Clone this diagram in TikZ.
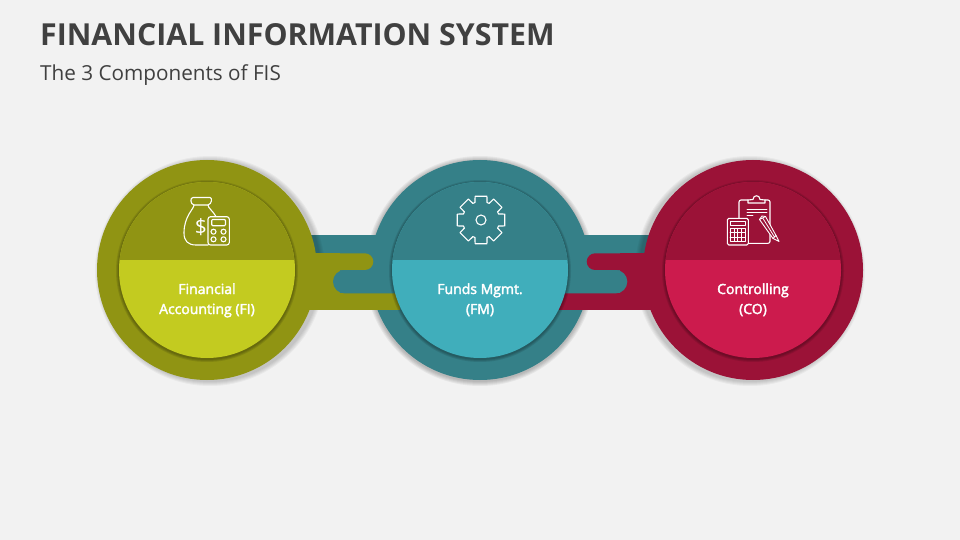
\documentclass[tikz,border=0pt]{standalone}
\usepackage{fontspec}
\setmainfont{Open Sans}
\newfontfamily\labelfont[BoldFont={Open Sans},BoldFeatures={RawFeature={embolden=2.5}},RawFeature={embolden=2.5}]{Open Sans}
\usepackage{tikz}
\definecolor{pageBg}{HTML}{F2F2F2}
\definecolor{titleInk}{HTML}{404040}
\definecolor{fiDark}{HTML}{909413}
\definecolor{fiLight}{HTML}{C3CB20}
\definecolor{fmDark}{HTML}{358088}
\definecolor{fmLight}{HTML}{40AEBB}
\definecolor{coDark}{HTML}{9B1237}
\definecolor{coLight}{HTML}{CC1B4D}

\newcommand{\softshadow}[4]{%
  \foreach \r in {1,...,#3} \fill[black,fill opacity=#4] #1 circle[radius=#2+\r];
}

\tikzset{
  outerdisc/.style={circle,minimum size=220pt,inner sep=0pt,fill=#1},
  innerdisc/.style n args={2}{circle,minimum size=176pt,inner sep=0pt,fill=#2,
    path picture={\fill[#1] (path picture bounding box.north west) rectangle ([yshift=10pt]path picture bounding box.east);}},
  maintitle/.style={anchor=base west,inner sep=0pt,text=titleInk},
  labeltext/.style={anchor=base,inner sep=0pt,text=white,font=\labelfont\fontsize{14}{14}\selectfont},
  iconline/.style={draw=white,line width=1.1pt,line join=round,line cap=round}
}

\begin{document}
\begin{tikzpicture}[x=1pt,y=-1pt]
  \fill[pageBg] (0,0) rectangle (960,540);
  \useasboundingbox (0,0) rectangle (960,540);

  \node[maintitle,font=\fontsize{30.3}{30.3}\selectfont\bfseries] (title) at (40,46) {FINANCIAL INFORMATION SYSTEM};
  \node[maintitle,font=\fontsize{20.7}{20.7}\selectfont] (subtitle) at (40,81) {The 3 Components of FIS};

  % middle disc and its band go first
  \softshadow{(480,271)}{110}{5}{0.05}
  \node[outerdisc=fmDark] (fmOuter) at (480,270) {};
  \fill[fmDark] (290,235) rectangle (670,293);

  % side discs
  \softshadow{(210,271)}{110}{5}{0.04}
  \softshadow{(750,271)}{110}{5}{0.04}
  \node[outerdisc=fiDark] (fiOuter) at (207,270) {};
  \node[outerdisc=coDark] (coOuter) at (753,270) {};

  % bands with the round ends
  \fill[fiDark] (290,253) rectangle (340,310);
  \fill[fiDark,rounded corners=8.4pt] (290,253.3) rectangle (373.3,270);
  \fill[fiDark] (290,293) rectangle (400,310);
  \fill[fmDark,rounded corners=11.7pt] (333,270) rectangle (420,293.4);
  \fill[coDark] (620,253) rectangle (670,310);
  \fill[coDark,rounded corners=8.4pt] (586.7,253.3) rectangle (670,270);
  \fill[coDark] (550,293) rectangle (670,310);
  \fill[fmDark,rounded corners=11.7pt] (540,270) rectangle (627.3,293.4);

  % inner discs
  \softshadow{(207,271)}{88}{3}{0.1}
  \softshadow{(480,271)}{88}{3}{0.1}
  \softshadow{(753,271)}{88}{3}{0.1}
  \node[innerdisc={fiDark}{fiLight}] (fiInner) at (207,270) {};
  \node[innerdisc={fmDark}{fmLight}] (fmInner) at (480,270) {};
  \node[innerdisc={coDark}{coLight}] (coInner) at (753,270) {};

  \node[labeltext] (fiLabelA) at (207,294) {Financial};
  \node[labeltext] (fiLabelB) at (207,314) {Accounting (FI)};
  \node[labeltext] (fmLabelA) at (480,294) {Funds Mgmt.};
  \node[labeltext] (fmLabelB) at (480,314) {(FM)};
  \node[labeltext] (coLabelA) at (753,294) {Controlling};
  \node[labeltext] (coLabelB) at (753,314) {(CO)};

  % money bag and calculator
  \draw[iconline] (193,197.5) -- (210,197.5) .. controls (212.5,197.5) and (212,204) .. (208,205) -- (194,205) .. controls (190,204) and (190,197.5) .. (193,197.5);
  \draw[iconline] (194,205) .. controls (194,209) and (184,216) .. (184,233) .. controls (184,241) and (188,245) .. (196,245) -- (208,245);
  \draw[iconline] (208,205) .. controls (208,208) and (213,211) .. (216,216.5);
  \node[inner sep=0pt,text=white,font=\fontsize{21}{21}\selectfont] (dollar) at (201,227) {\$};
  \draw[iconline,rounded corners=2.5pt] (208,216.7) rectangle (229.3,245);
  \draw[iconline,rounded corners=1pt] (211.7,219.5) rectangle (225.5,225.7);
  \foreach \x in {213.5,223.5} \foreach \y in {231.7,239.3}
    \draw[iconline] (\x,\y) circle[radius=2.5];

  % gear
  \draw[iconline] (481,220) circle[radius=5];
  \begin{scope}[shift={(481,220)},x=1pt,y=1pt]
    \draw[iconline] (-19:18.5) -- (-14:24.5) -- (14:24.5) -- (19:18.5)
      \foreach \a in {45,90,...,315} { -- (\a-19:18.5) -- (\a-14:24.5) -- (\a+14:24.5) -- (\a+19:18.5) } -- cycle;
  \end{scope}

  % clipboard, calculator and pencil
  \draw[iconline,rounded corners=2pt] (748,200) -- (739,200) -- (739,218);
  \draw[iconline,rounded corners=2pt] (765,200) -- (770,200) -- (770,243.3) -- (748.5,243.3);
  \draw[iconline] (748,200) -- (748,203) -- (765,203) -- (765,200) -- (760,199.5) .. controls (760,194.5) and (753,194.5) .. (753,199.5) -- cycle;
  \draw[iconline,line width=.9pt] (747,209) -- (767,209) (747,212.3) -- (767,212.3) (747,215.7) -- (753,215.7);
  \draw[iconline,fill=coDark,rounded corners=1.5pt] (727.3,218.3) rectangle (748.3,245);
  \draw[iconline,line width=.8pt] (730,221.5) rectangle (745.5,225.5);
  \draw[iconline,line width=.8pt] (730,228.5) rectangle (745.5,241.5);
  \foreach \x in {733.9,737.75,741.6} \draw[iconline,line width=.7pt] (\x,228.5) -- (\x,241.5);
  \foreach \y in {232.8,237.1} \draw[iconline,line width=.7pt] (730,\y) -- (745.5,\y);
  \draw[iconline,fill=coDark,line width=.9pt] (759.5,219.5) -- (762,216) -- (765.5,216.5) -- (776,235.5) -- (779,241.5) -- (773,238.5) -- cycle;
  \draw[iconline,line width=.8pt] (759.5,219.5) -- (765.5,216.5) (773,238.5) -- (776,235.5) (763,218.5) -- (774.5,237);
\end{tikzpicture}
\end{document}
